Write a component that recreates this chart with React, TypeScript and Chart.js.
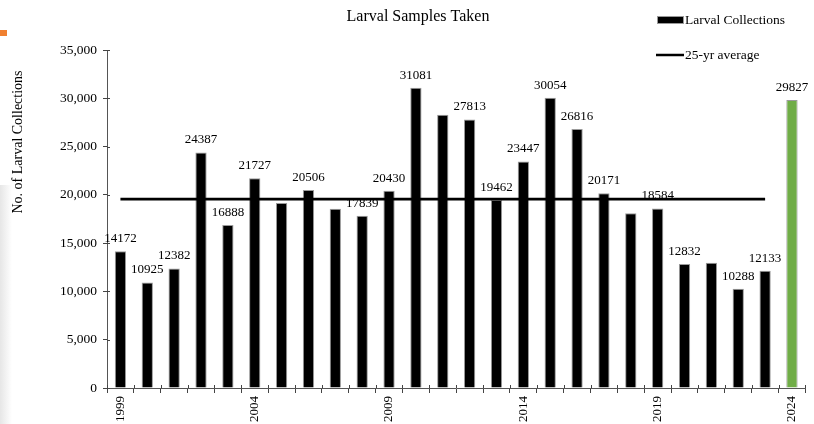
import React, { useEffect, useRef } from "react";
import { Chart, registerables } from "chart.js";

Chart.register(...registerables);

const years: string[] = [
  "1999", "2000", "2001", "2002", "2003", "2004", "2005", "2006", "2007", "2008",
  "2009", "2010", "2011", "2012", "2013", "2014", "2015", "2016", "2017", "2018",
  "2019", "2020", "2021", "2022", "2023", "2024",
];

const collections: number[] = [
  14172, 10925, 12382, 24387, 16888, 21727, 19150, 20506, 18550, 17839,
  20430, 31081, 28300, 27813, 19462, 23447, 30054, 26816, 20171, 18100,
  18584, 12832, 12980, 10288, 12133, 29827,
];

// which bars carry a value label in the reference
const showLabel: boolean[] = [
  true, true, true, true, true, true, false, true, false, true,
  true, true, false, true, true, true, true, true, true, false,
  true, true, false, true, true, true,
];

const averageValue = 19561;
const averageLine: (number | null)[] = years.map((y) => (y === "2024" ? null : averageValue));

const yTicks: number[] = [0, 5000, 10000, 15000, 20000, 25000, 30000, 35000];

const SERIF = "'Liberation Serif', 'Times New Roman', serif";

export default function App() {
  const ref = useRef<HTMLCanvasElement | null>(null);

  useEffect(() => {
    document.body.style.margin = "0";
    const canvas = ref.current;
    if (!canvas) return;

    const barColors = years.map((y) => (y === "2024" ? "#70AD47" : "#000000"));

    const labelsPlugin = {
      id: "barLabels",
      afterDatasetsDraw(chart: any) {
        const ctx = chart.ctx;
        const meta = chart.getDatasetMeta(1);
        ctx.save();
        ctx.font = `13px ${SERIF}`;
        ctx.fillStyle = "#000";
        ctx.textAlign = "center";
        ctx.textBaseline = "bottom";
        meta.data.forEach((bar: any, i: number) => {
          if (!showLabel[i]) return;
          ctx.fillText(String(collections[i]), bar.x, bar.y - 6);
        });
        ctx.restore();
      },
    };

    const decorPlugin = {
      id: "decor",
      afterDraw(chart: any) {
        const ctx = chart.ctx;
        const area = chart.chartArea;
        const xs = chart.scales.x;
        const ys = chart.scales.y;
        ctx.save();
        // inner halves of the crossing tick marks
        ctx.strokeStyle = "#444";
        ctx.lineWidth = 1;
        ctx.beginPath();
        for (let i = 0; i <= years.length; i++) {
          const px = Math.round(xs.getPixelForValue(i - 0.5)) + 0.5;
          ctx.moveTo(px, area.bottom);
          ctx.lineTo(px, area.bottom - 3);
        }
        yTicks.forEach((v) => {
          const py = Math.round(ys.getPixelForValue(v)) + 0.5;
          ctx.moveTo(area.left, py);
          ctx.lineTo(area.left + 3, py);
        });
        ctx.stroke();

        // title
        ctx.font = `16px ${SERIF}`;
        ctx.fillStyle = "#000";
        ctx.textAlign = "center";
        ctx.textBaseline = "middle";
        ctx.fillText("Larval Samples Taken", area.left + 311, 17);

        // y axis title
        ctx.save();
        ctx.translate(18, area.top + 92);
        ctx.rotate(-Math.PI / 2);
        ctx.font = `14px ${SERIF}`;
        ctx.fillText("No. of Larval Collections", 0, 0);
        ctx.restore();

        // legend
        const lx = chart.width - 157;
        ctx.font = `13.5px ${SERIF}`;
        ctx.textAlign = "left";
        ctx.textBaseline = "middle";
        ctx.fillStyle = "#000";
        ctx.fillRect(lx, 17, 26, 6);
        ctx.strokeStyle = "#999";
        ctx.lineWidth = 1;
        ctx.strokeRect(lx + 0.5, 16.5, 26, 7);
        ctx.fillStyle = "#000";
        ctx.fillText(chart.data.datasets[1].label, lx + 28, 20);

        ctx.strokeStyle = "#000";
        ctx.lineWidth = 2.5;
        ctx.beginPath();
        ctx.moveTo(lx - 1, 55);
        ctx.lineTo(lx + 27, 55);
        ctx.stroke();
        ctx.fillText(chart.data.datasets[0].label, lx + 28, 55);
        ctx.restore();
      },
    };

    const chart = new Chart(canvas, {
      type: "bar",
      data: {
        labels: years,
        datasets: [
          {
            type: "line",
            label: "25-yr average",
            data: averageLine as any,
            borderColor: "#000",
            borderWidth: 2.8,
            pointRadius: 0,
            fill: false,
            order: 0,
          } as any,
          {
            type: "bar",
            label: "Larval Collections",
            data: collections,
            backgroundColor: barColors,
            borderColor: "#9a9a9a",
            borderWidth: 1,
            barPercentage: 0.42,
            categoryPercentage: 1,
            order: 1,
          },
        ],
      },
      options: {
        responsive: false,
        animation: false,
        layout: { padding: { left: 0, right: 8.6, top: 50, bottom: 0 } },
        plugins: {
          legend: { display: false },
          title: { display: false },
          tooltip: { enabled: false },
        },
        scales: {
          x: {
            offset: true,
            grid: {
              offset: true,
              drawOnChartArea: false,
              drawTicks: true,
              tickLength: 5,
              color: "#444",
            },
            border: { color: "#555", width: 1 },
            ticks: {
              autoSkip: false,
              minRotation: 90,
              maxRotation: 90,
              padding: 3,
              color: "#000",
              font: { family: SERIF, size: 13 },
              callback: (_v: any, i: number) => (i % 5 === 0 ? years[i] : ""),
            },
            afterFit: (scale: any) => {
              scale.height = 36;
            },
          },
          y: {
            min: 0,
            max: 35000,
            grid: {
              drawOnChartArea: false,
              drawTicks: true,
              tickLength: 4,
              color: "#444",
            },
            border: { color: "#555", width: 1 },
            afterBuildTicks: (scale: any) => {
              scale.ticks = yTicks.map((v) => ({ value: v }));
            },
            ticks: {
              padding: 6,
              color: "#000",
              font: { family: SERIF, size: 13.5 },
              callback: (v: any) => Number(v).toLocaleString("en-US"),
            },
            afterFit: (scale: any) => {
              scale.width = 107;
            },
          },
        },
      },
      plugins: [labelsPlugin, decorPlugin],
    });

    return () => chart.destroy();
  }, []);

  return (
    <div style={{ position: "relative", width: 814, height: 424, background: "#fff" }}>
      <div
        style={{
          position: "absolute",
          left: 0,
          top: 30,
          width: 7,
          height: 6,
          background: "#F08030",
        }}
      />
      <div
        style={{
          position: "absolute",
          left: 0,
          top: 185,
          width: 12,
          height: 239,
          background: "linear-gradient(to right, #e6e6e6, #ffffff)",
        }}
      />
      <canvas ref={ref} width={814} height={424} style={{ position: "relative", display: "block" }} />
    </div>
  );
}
